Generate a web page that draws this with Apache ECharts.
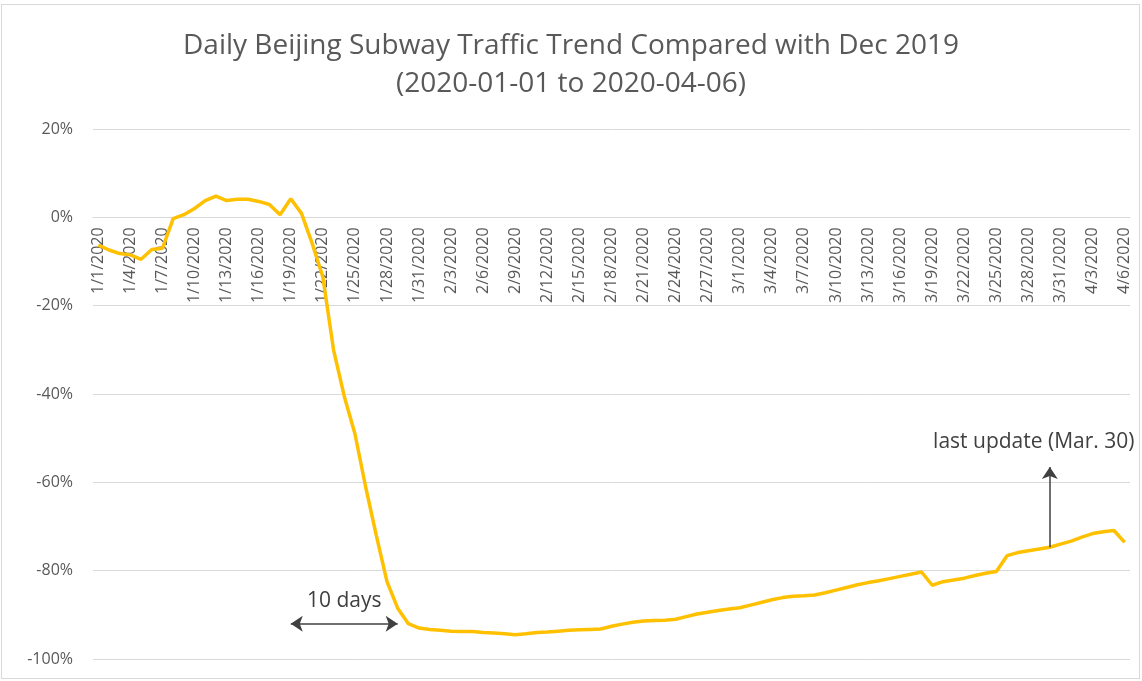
<!DOCTYPE html>
<html>
<head>
<meta charset="utf-8">
<script src="https://cdn.jsdelivr.net/npm/echarts@6/dist/echarts.min.js"></script>
<style>
  html, body { margin: 0; padding: 0; background: #fff; overflow: hidden; }
  #chart { position: absolute; left: 0; top: 0; width: 1142px; height: 681px; }
  #frame { position: absolute; left: 1px; top: 4px; width: 1139px; height: 675px;
           border: 1px solid #d9d9d9; box-sizing: border-box; pointer-events: none; }
</style>
</head>
<body>
<div id="chart"></div>
<div id="frame"></div>
<script>
// days from 2020-01-01 to 2020-04-06
var days = [
  "1/1/2020", "1/2/2020", "1/3/2020", "1/4/2020", "1/5/2020", "1/6/2020", "1/7/2020", "1/8/2020",
  "1/9/2020", "1/10/2020", "1/11/2020", "1/12/2020", "1/13/2020", "1/14/2020", "1/15/2020", "1/16/2020",
  "1/17/2020", "1/18/2020", "1/19/2020", "1/20/2020", "1/21/2020", "1/22/2020", "1/23/2020", "1/24/2020",
  "1/25/2020", "1/26/2020", "1/27/2020", "1/28/2020", "1/29/2020", "1/30/2020", "1/31/2020",
  "2/1/2020", "2/2/2020", "2/3/2020", "2/4/2020", "2/5/2020", "2/6/2020", "2/7/2020", "2/8/2020",
  "2/9/2020", "2/10/2020", "2/11/2020", "2/12/2020", "2/13/2020", "2/14/2020", "2/15/2020", "2/16/2020",
  "2/17/2020", "2/18/2020", "2/19/2020", "2/20/2020", "2/21/2020", "2/22/2020", "2/23/2020", "2/24/2020",
  "2/25/2020", "2/26/2020", "2/27/2020", "2/28/2020", "2/29/2020",
  "3/1/2020", "3/2/2020", "3/3/2020", "3/4/2020", "3/5/2020", "3/6/2020", "3/7/2020", "3/8/2020",
  "3/9/2020", "3/10/2020", "3/11/2020", "3/12/2020", "3/13/2020", "3/14/2020", "3/15/2020", "3/16/2020",
  "3/17/2020", "3/18/2020", "3/19/2020", "3/20/2020", "3/21/2020", "3/22/2020", "3/23/2020", "3/24/2020",
  "3/25/2020", "3/26/2020", "3/27/2020", "3/28/2020", "3/29/2020", "3/30/2020", "3/31/2020",
  "4/1/2020", "4/2/2020", "4/3/2020", "4/4/2020", "4/5/2020", "4/6/2020"
];

// traffic compared with Dec 2019, in percent
var traffic = [
  -6.3, -7.4, -8.2, -8.5, -9.5, -7.3, -7.0, -0.3, 0.6, 2.0,
  3.8, 4.8, 3.8, 4.1, 4.1, 3.6, 2.9, 0.6, 4.2, 0.9,
  -5.9, -13.5, -30.0, -40.5, -49.0, -61.0, -72.0, -82.5, -88.5, -92.0,
  -93.0, -93.3, -93.5, -93.7, -93.8, -93.8, -94.0, -94.1, -94.3, -94.5,
  -94.3, -94.0, -93.9, -93.7, -93.5, -93.4, -93.3, -93.2, -92.6, -92.1,
  -91.7, -91.4, -91.3, -91.2, -91.0, -90.4, -89.8, -89.4, -89.0, -88.7,
  -88.4, -87.8, -87.2, -86.6, -86.1, -85.8, -85.7, -85.5, -85.0, -84.4,
  -83.8, -83.2, -82.7, -82.3, -81.8, -81.3, -80.8, -80.3, -83.3, -82.5,
  -82.1, -81.7, -81.1, -80.6, -80.2, -76.6, -75.9, -75.5, -75.1, -74.7,
  -74.0, -73.3, -72.4, -71.6, -71.2, -70.9, -73.6
];

var yTicks = { min: -100, max: 20, step: 20 };

// annotations
var lagStart = "1/19/2020";
var lagEnd = "1/29/2020";
var lagLevel = -92;
var lagText = "10 days";
var updateDay = "3/30/2020";
var updateFrom = -74.7;
var updateTo = -56.5;
var updateText = "last update (Mar. 30)";

var textColor = "#595959";
var noteColor = "#404040";
var fontFamily = "'Open Sans', 'Noto Sans', sans-serif";

var chart = echarts.init(document.getElementById("chart"), null, { renderer: "canvas" });

chart.setOption({
  animation: false,
  title: {
    text: "Daily Beijing Subway Traffic Trend Compared with Dec 2019\n(2020-01-01 to 2020-04-06)",
    left: "center",
    top: 22,
    textStyle: {
      color: textColor,
      fontFamily: fontFamily,
      fontWeight: "normal",
      fontSize: 28,
      lineHeight: 38
    }
  },
  grid: {
    left: 93,
    right: 12,
    top: 129,
    bottom: 22,
    containLabel: false,
    outerBoundsMode: "none"
  },
  xAxis: {
    type: "category",
    data: days,
    boundaryGap: true,
    position: "bottom",
    offset: 0,
    axisLine: { onZero: false, lineStyle: { color: "#d9d9d9", width: 1 } },
    axisTick: { show: false },
    axisLabel: {
      interval: 2,
      rotate: 90,
      margin: 10,
      color: textColor,
      fontFamily: fontFamily,
      fontSize: 16
    },
    splitLine: { show: false }
  },
  yAxis: {
    type: "value",
    min: yTicks.min,
    max: yTicks.max,
    interval: yTicks.step,
    axisLine: { show: false },
    axisTick: { show: false },
    axisLabel: {
      formatter: "{value}%",
      margin: 20,
      color: textColor,
      fontFamily: fontFamily,
      fontSize: 16
    },
    splitLine: { lineStyle: { color: "#d9d9d9", width: 1 } }
  },
  series: [{
    type: "line",
    data: traffic,
    showSymbol: false,
    lineStyle: { color: "#ffc000", width: 3.5 },
    itemStyle: { color: "#ffc000" },
    z: 3,
    markLine: {
      silent: true,
      animation: false,
      lineStyle: { color: noteColor, width: 1.5, type: "solid" },
      symbolSize: 12,
      data: [
        [
          { coord: [lagStart, lagLevel], symbol: "arrow" },
          {
            coord: [lagEnd, lagLevel], symbol: "arrow",
            label: {
              show: true, position: "middle", formatter: lagText, distance: 12,
              color: noteColor, fontFamily: fontFamily, fontSize: 21
            }
          }
        ],
        [
          { coord: [updateDay, updateFrom], symbol: "none" },
          {
            coord: [updateDay, updateTo], symbol: "arrow",
            label: {
              show: true, position: "end", formatter: updateText, distance: 14,
              offset: [-16, 0],
              color: noteColor, fontFamily: fontFamily, fontSize: 21
            }
          }
        ]
      ]
    }
  }]
});

// move the date axis up so it crosses the value axis at 0%, as in the original
var zeroY = chart.convertToPixel({ yAxisIndex: 0 }, 0);
var bottomY = chart.convertToPixel({ yAxisIndex: 0 }, yTicks.min);
chart.setOption({ xAxis: { offset: -(bottomY - zeroY) } });
</script>
</body>
</html>
